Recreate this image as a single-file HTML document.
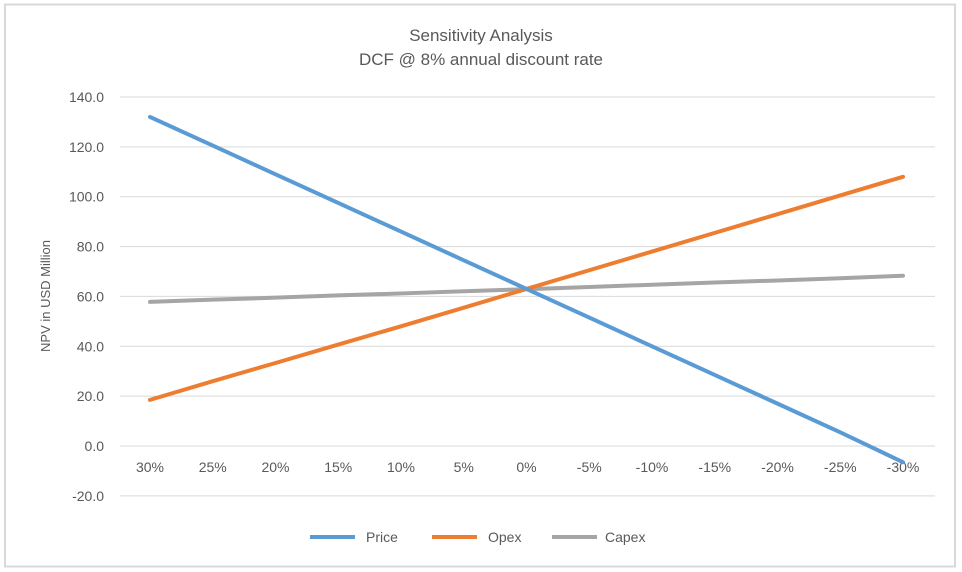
<!DOCTYPE html>
<html><head><meta charset="utf-8"><style>
body{margin:0;background:#fff;}
svg{display:block;font-family:"Liberation Sans",Arial,sans-serif;}
</style></head><body>
<svg id="chart" width="962" height="572">
<rect x="5" y="4.5" width="950" height="562" fill="#fff" stroke="#d9d9d9" stroke-width="2"/>
<text x="481" y="41" text-anchor="middle" font-size="17" fill="#595959">Sensitivity  Analysis</text>
<text x="481" y="65" text-anchor="middle" font-size="17" fill="#595959">DCF @ 8% annual  discount rate</text>
<text transform="translate(50,296) rotate(-90)" text-anchor="middle" font-size="13" fill="#595959">NPV in USD Million</text>
<g id="grid"></g><g id="xt"></g><g id="series"></g>
<g>
<line x1="310" y1="537" x2="355" y2="537" stroke="#5b9bd5" stroke-width="4"/>
<text x="366" y="542" font-size="14" fill="#595959">Price</text>
<line x1="432" y1="537" x2="477" y2="537" stroke="#ed7d31" stroke-width="4"/>
<text x="488" y="542" font-size="14" fill="#595959">Opex</text>
<line x1="552" y1="537" x2="597" y2="537" stroke="#a5a5a5" stroke-width="4"/>
<text x="605" y="542" font-size="14" fill="#595959">Capex</text>
</g>
</svg>
<script>
const categories=["30%","25%","20%","15%","10%","5%","0%","-5%","-10%","-15%","-20%","-25%","-30%"];
const priceValues=[132,120.5,109,97.5,86,74.5,63,51.5,40,28.5,17,5.5,-6.5];
const opexValues=[18.5,26,33.3,40.7,48,55.5,63,70.5,78,85.5,93,100.5,108];
const capexValues=[57.8,58.7,59.5,60.4,61.2,62.1,62.9,63.8,64.7,65.6,66.4,67.3,68.3];
const yTicks=[140,120,100,80,60,40,20,0,-20];
const NS="http://www.w3.org/2000/svg";
function y(v){return 446-v*(349/140);}
function x(i){return 150+i*62.75;}
function mk(t,a,p){const e=document.createElementNS(NS,t);for(const k in a)e.setAttribute(k,a[k]);p.appendChild(e);return e;}
const grid=document.getElementById('grid');
yTicks.forEach(v=>{
 const l=mk('line',{x1:120,x2:935,y1:y(v),y2:y(v),stroke:'#d9d9d9','stroke-width':1},grid);
 
 
 const t=mk('text',{x:104,y:y(v)+5,'text-anchor':'end','font-size':14,fill:'#595959'},grid);
 t.textContent=v.toFixed(1);
 
 
});
const xt=document.getElementById('xt');
categories.forEach((c,i)=>{
 const t=mk('text',{x:x(i),y:472,'text-anchor':'middle','font-size':14,fill:'#595959'},xt);
 t.textContent=c;
 
 
});
const sg=document.getElementById('series');
[[priceValues,'#5b9bd5','price-line'],[opexValues,'#ed7d31','opex-line'],[capexValues,'#a5a5a5','capex-line']].reverse().forEach(([vals,col,nm])=>{
 const p=mk('polyline',{points:vals.map((v,i)=>x(i)+','+y(v)).join(' '),fill:'none',stroke:col,'stroke-width':4,'stroke-linecap':'round','stroke-linejoin':'round'},sg);
 
 
});
</script>
</body></html>
